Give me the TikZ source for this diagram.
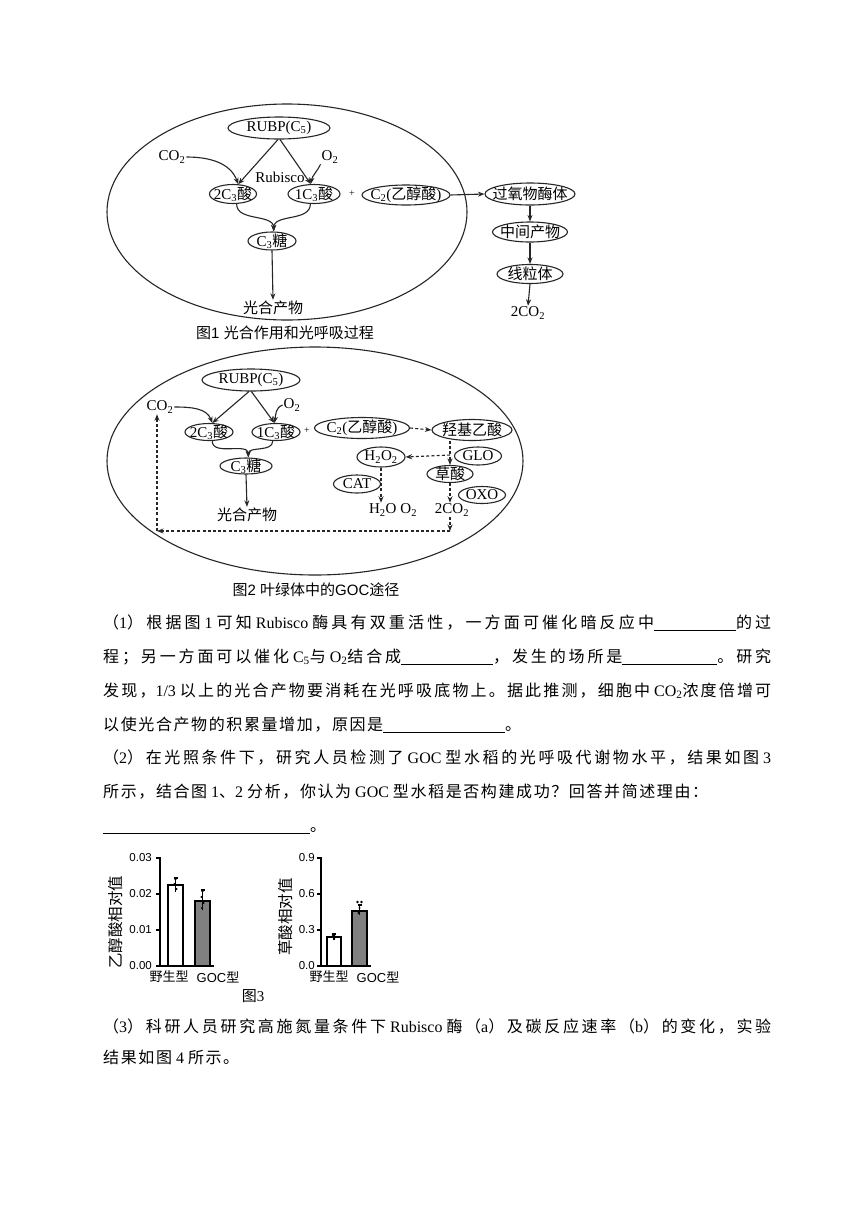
\documentclass[tikz,border=0pt]{standalone}
\usepackage{fontspec}
\setmainfont{Liberation Serif}
\setsansfont{Liberation Sans}
\newfontfamily\cjk{Noto Sans CJK SC}
\usetikzlibrary{shapes.geometric,arrows.meta}
\XeTeXinterchartokenstate=1
\newXeTeXintercharclass\CJKcls
\makeatletter
\newcommand\setcls[3]{\count@=#1\relax\loop\XeTeXcharclass\count@=#3\relax\ifnum\count@<#2\advance\count@\@ne\repeat}
\setcls{"3000}{"303F}{\CJKcls}
\setcls{"4E00}{"9FFF}{\CJKcls}
\setcls{"FF00}{"FFEF}{\CJKcls}
\setcls{"0021}{"007E}{0}
\makeatother
\newcommand\latinfam{\rmfamily}
\let\cjkglue\relax
\XeTeXinterchartoks 0 \CJKcls = {\cjk}
\XeTeXinterchartoks 4095 \CJKcls = {\cjk}
\XeTeXinterchartoks \CJKcls 0 = {\latinfam}
\XeTeXinterchartoks \CJKcls 4095 = {\latinfam}
\XeTeXinterchartoks \CJKcls \CJKcls = {\cjkglue}
\newcommand\sfx{\def\latinfam{\sffamily}\sffamily}
\newcommand\fullline[1]{{\def\cjkglue{\hskip 1.6pt plus 1fil}\hbox to 668pt{#1}}}
\newcommand\natline[1]{{\def\cjkglue{\hskip 1.6pt}#1}}
\newcommand\blank[1]{\rule[-2.5pt]{#1pt}{0.6pt}}
\tikzset{
  ln/.style={line width=1.1pt, draw=black!85},
  arr/.style={ln, -{Stealth[length=6.5pt,width=5pt]}},
  darr/.style={arr, dash pattern=on 3pt off 2.2pt},
  ov/.style={ellipse, draw=black!85, line width=1.1pt, inner sep=0pt},
  lbl/.style={inner sep=1pt, font=\fontsize{15}{17}\selectfont},
  capf/.style={inner sep=0pt, font=\sfx\fontsize{15}{17}\selectfont},
  para/.style={anchor=base west, inner sep=0pt, font=\fontsize{16}{18}\selectfont},
  cax/.style={line width=1.3pt, draw=black},
  barw/.style={line width=1.4pt, draw=black, fill=white},
  barg/.style={line width=1.4pt, draw=black, fill=black!50},
  eb/.style={line width=1.1pt, draw=black},
  tickl/.style={inner sep=0pt, anchor=east, font=\sfx\fontsize{11.5}{13}\selectfont},
  xl/.style={inner sep=0pt, font=\sfx\fontsize{13}{15}\selectfont},
  yl/.style={inner sep=0pt, rotate=90, font=\sfx\fontsize{15.5}{17}\selectfont},
}
\newcommand\ovn[5]{\node[ov,minimum width=#3pt,minimum height=#4pt] (#1) at (#2) {};\node[lbl] (#1t) at (#1) {#5};}
\begin{document}
\begin{tikzpicture}[x=1pt,y=-1pt]
\useasboundingbox (0,0) rectangle (860,1216);
\fill[white] (0,0) rectangle (860,1216);

% ---------------- Figure 1
\draw[ln] (287,212) ellipse [x radius=180pt, y radius=108pt];
\ovn{rubpA}{279,128}{102}{22}{RUBP(C\textsubscript{5})}
\node[lbl] (co2A) at (172,157) {CO\textsubscript{2}};
\node[lbl] (o2A) at (330,157) {O\textsubscript{2}};
\node[lbl] (rubiscoA) at (280,177) {Rubisco};
\ovn{twoc3A}{233,194}{47}{19}{2C\textsubscript{3}酸}
\ovn{onec3A}{314,194}{52}{19}{1C\textsubscript{3}酸}
\node[lbl, font=\fontsize{10}{12}\selectfont] (plusA) at (352,194) {+};
\ovn{c2A}{406,195}{88}{20}{C\textsubscript{2}(乙醇酸)}
\ovn{peroA}{530,194}{90}{22}{过氧物酶体}
\ovn{midA}{530,232}{75}{20}{中间产物}
\ovn{mitoA}{530,274}{66}{19}{线粒体}
\node[lbl] (co2outA) at (528,313) {2CO\textsubscript{2}};
\ovn{c3tA}{272,241}{48}{18}{C\textsubscript{3}糖}
\node[lbl] (prodA) at (273,308) {光合产物};
\node[capf] (capA) at (285,333) {图1 光合作用和光呼吸过程};

\draw[arr] (rubpA.-95) -- (twoc3A.62);
\draw[arr] (rubpA.-85) -- (onec3A.108);
\draw[arr] (co2A.east) to[out=0,in=110] (twoc3A.62);
\draw[arr] (o2A.south west) to[out=-115,in=80] (onec3A.108);
\draw[arr] (twoc3A.-70) to[out=-90,in=90] (c3tA.80);
\draw[arr] (onec3A.-110) to[out=-90,in=90] (c3tA.80);
\draw[arr] (c3tA.south) -- (prodA.north);
\draw[arr] (c2A.east) -- (peroA.west);
\draw[arr] (peroA.south) -- (midA.north);
\draw[arr] (midA.south) -- (mitoA.north);
\draw[arr] (mitoA.south) -- (co2outA.north);

% ---------------- Figure 2
\draw[ln] (315,461) ellipse [x radius=208pt, y radius=114pt];
\ovn{rubpB}{251,380}{98}{22}{RUBP(C\textsubscript{5})}
\node[lbl] (co2B) at (160,407) {CO\textsubscript{2}};
\node[lbl] (o2B) at (292,405) {O\textsubscript{2}};
\ovn{twoc3B}{209,432}{48}{17}{2C\textsubscript{3}酸}
\ovn{onec3B}{276,432}{48}{17}{1C\textsubscript{3}酸}
\node[lbl, font=\fontsize{10}{12}\selectfont] (plusB) at (307,431) {+};
\ovn{c2B}{362,428}{95}{21}{C\textsubscript{2}(乙醇酸)}
\ovn{hydB}{472,430}{80}{21}{羟基乙酸}
\ovn{h2o2B}{381,457}{48}{20}{H\textsubscript{2}O\textsubscript{2}}
\ovn{gloB}{478,456}{47}{18}{GLO}
\ovn{oxaB}{450,474}{46}{17}{草酸}
\ovn{catB}{357,484}{47}{18}{CAT}
\ovn{oxoB}{482,495}{47}{17}{OXO}
\node[lbl] (h2oB) at (393,510) {H\textsubscript{2}O\hspace{4pt}O\textsubscript{2}};
\node[lbl] (co2outB) at (452,510) {2CO\textsubscript{2}};
\ovn{c3tB}{246,466}{52}{16}{C\textsubscript{3}糖}
\node[lbl] (prodB) at (247,515) {光合产物};
\node[capf] (capB) at (316,590) {图2 叶绿体中的GOC途径};

\draw[arr] (rubpB.-100) -- (twoc3B.70);
\draw[arr] (rubpB.-88) -- (onec3B.100);
\draw[arr] (co2B.east) to[out=0,in=110] (twoc3B.70);
\draw[arr] (o2B.west) to[out=200,in=80] (onec3B.100);
\draw[arr] (twoc3B.-70) to[out=-90,in=90] (c3tB.75);
\draw[arr] (onec3B.-110) to[out=-90,in=90] (c3tB.75);
\draw[arr] (c3tB.south) -- (prodB.north);

\coordinate (jB) at (450,455);
\coordinate (cR) at (450,531);
\coordinate (cL) at (157,531);
\draw[darr] (c2B.east) -- (hydB.west);
\draw[darr] (hydB.south -| oxaB.north) -- (oxaB.north);
\draw[darr] (jB) -- (h2o2B.east);
\draw[darr] (h2o2B.south) -- (h2o2B.south |- h2oB.north);
\draw[darr] (oxaB.south) -- (oxaB.south |- co2outB.north);
\draw[darr] (co2outB.south -| cR) -- (cR);
\draw[darr] (cR) -- (cL);
\draw[darr] (cL) -- (cL |- co2B.south);

% ---------------- Text
\node[para] (t1) at (103,628) {\fullline{（1）根据图 1 可知 Rubisco 酶具有双重活性，一方面可催化暗反应中\blank{82}的过}};
\node[para] (t2) at (103,662) {\fullline{程；另一方面可以催化 C\textsubscript{5}与 O\textsubscript{2}结合成\blank{92}，发生的场所是\blank{95}。研究}};
\node[para] (t3) at (103,696) {\fullline{发现，1/3 以上的光合产物要消耗在光呼吸底物上。据此推测，细胞中 CO\textsubscript{2}浓度倍增可}};
\node[para] (t4) at (103,730) {\natline{以使光合产物的积累量增加，原因是\blank{122}。}};
\node[para] (t5) at (103,763) {\fullline{（2）在光照条件下，研究人员检测了 GOC 型水稻的光呼吸代谢物水平，结果如图 3}};
\node[para] (t6) at (103,797) {\natline{所示，结合图 1、2 分析，你认为 GOC 型水稻是否构建成功？回答并简述理由：}};
\node[para] (t7) at (103,831) {\natline{\blank{207}。}};
\node[para] (t8) at (103,1032) {\fullline{（3）科研人员研究高施氮量条件下 Rubisco 酶（a）及碳反应速率（b）的变化，实验}};
\node[para] (t9) at (103,1063) {\natline{结果如图 4 所示。}};

% ---------------- Figure 3 left chart
\draw[cax] (156,858) -- (160,858) (156,894) -- (160,894) (156,930) -- (160,930) (156,966) -- (160,966);
\draw[cax] (160,857) -- (160,966) -- (214,966);
\draw[barw] (168,966) rectangle (183,885);
\draw[barg] (195,966) rectangle (210,901);
\draw[eb] (175.5,878) -- (175.5,892) (173.5,878) -- (177.5,878);
\fill (175.5,879) circle (1.3pt) (174.5,884) circle (1.2pt) (176.5,889) circle (1.2pt);
\draw[eb] (202.5,890) -- (202.5,910) (200.5,890) -- (204.5,890);
\fill (202.5,891) circle (1.3pt) (201.5,897) circle (1.2pt) (203.5,903) circle (1.2pt) (202,908) circle (1.2pt);
\node[tickl] (la3) at (152,858) {0.03};
\node[tickl] (la2) at (152,894) {0.02};
\node[tickl] (la1) at (152,930) {0.01};
\node[tickl] (la0) at (152,966) {0.00};
\node[yl] (ylA) at (116,922) {乙醇酸相对值};
\node[xl] (xa1) at (169,977) {野生型};
\node[xl] (xa2) at (218,977) {GOC型};

% right chart
\draw[cax] (317,858) -- (321,858) (317,894) -- (321,894) (317,930) -- (321,930) (317,966) -- (321,966);
\draw[cax] (321,857) -- (321,966) -- (371,966);
\draw[barw] (327,966) rectangle (341,937);
\draw[barg] (352,966) rectangle (367,911);
\draw[eb] (334,934) -- (334,940) (332,934) -- (336,934);
\fill (333,935) circle (1.4pt) (335,937) circle (1.4pt) (334,939) circle (1.2pt);
\draw[eb] (359.5,905) -- (359.5,915) (357.5,905) -- (361.5,905);
\fill (357.5,902) circle (1.3pt) (361.5,902) circle (1.3pt) (359.5,908) circle (1.2pt) (358.5,913) circle (1.2pt);
\node[tickl] (lb3) at (315,858) {0.9};
\node[tickl] (lb2) at (315,894) {0.6};
\node[tickl] (lb1) at (315,930) {0.3};
\node[tickl] (lb0) at (315,966) {0.0};
\node[yl] (ylB) at (286,917) {草酸相对值};
\node[xl] (xb1) at (329,977) {野生型};
\node[xl] (xb2) at (378,977) {GOC型};
\node[inner sep=0pt, font=\fontsize{15}{17}\selectfont] (cap3) at (253,996) {图3};
\end{tikzpicture}
\end{document}
